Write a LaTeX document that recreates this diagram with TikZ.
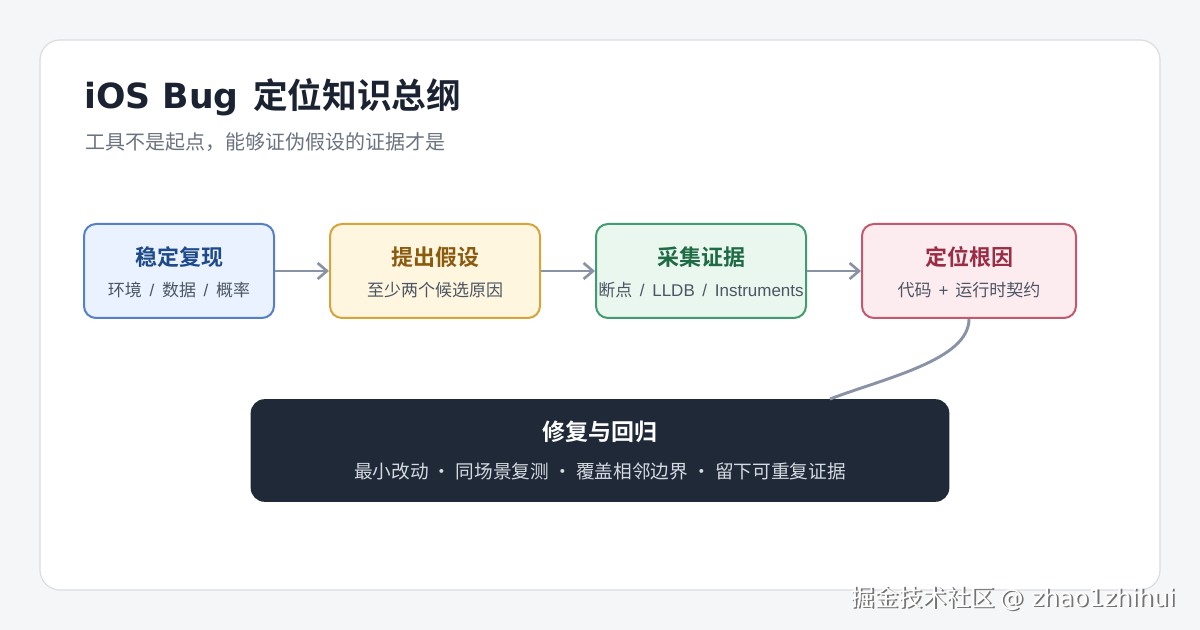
\documentclass[tikz,border=0pt]{standalone}
\usepackage{fontspec}
\setmainfont{Noto Sans CJK SC}
\newfontfamily\cjkbold{Noto Sans CJK SC Bold}
\newfontfamily\lat{Liberation Sans}
\newfontfamily\latw{DejaVu Sans}
\usetikzlibrary{arrows.meta}
\newcommand\sepsl{{\lat\hspace{0.45em}/\hspace{0.45em}}}
\newcommand\seppl{{\lat\hspace{0.4em}+\hspace{0.4em}}}
\definecolor{bgc}{HTML}{F5F6F8}
\definecolor{cardborder}{HTML}{DADDE2}
\definecolor{titlec}{HTML}{1B2333}
\definecolor{subc}{HTML}{6B7280}
\definecolor{linec}{HTML}{8A93A6}
\definecolor{bAf}{HTML}{EAF2FF}\definecolor{bAd}{HTML}{5580C6}\definecolor{bAt}{HTML}{1E4A8A}
\definecolor{bBf}{HTML}{FFF6DF}\definecolor{bBd}{HTML}{D4A53A}\definecolor{bBt}{HTML}{8A5A0F}
\definecolor{bCf}{HTML}{EAF7EF}\definecolor{bCd}{HTML}{439C71}\definecolor{bCt}{HTML}{1E6B45}
\definecolor{bDf}{HTML}{FDECEF}\definecolor{bDd}{HTML}{C3596F}\definecolor{bDt}{HTML}{9B2C45}
\definecolor{boxsub}{HTML}{4B5563}
\definecolor{darkf}{HTML}{1F2937}
\definecolor{darksub}{HTML}{D5DAE1}
\begin{document}
\begin{tikzpicture}[x=0.75pt,y=-0.75pt,
  stagebox/.style={draw, line width=1.5pt, rounded corners=9pt, minimum height=70.5pt, inner sep=0pt},
  stagetitle/.style={font=\cjkbold\fontsize{16.5}{19}\selectfont, inner sep=0pt},
  stagesub/.style={font=\fontsize{12.75}{15}\selectfont, text=boxsub, inner sep=0pt},
  flow/.style={draw=linec, line width=2.2pt, -{Straight Barb[length=7pt,width=12pt,line width=2pt]}},
  link/.style={draw=linec, line width=2.2pt}]
\useasboundingbox (0,0) rectangle (1200,630);
\fill[bgc] (0,0) rectangle (1200,630);
\node[draw=cardborder, fill=white, line width=0.9pt, rounded corners=15pt, minimum width=840pt, minimum height=412.5pt, inner sep=0pt] (card) at (600,315) {};
\node[anchor=base west, inner sep=0pt, text=titlec, font=\cjkbold\fontsize{26}{30}\selectfont] (title) at (84,109) {{\latw\bfseries iOS Bug\hspace{0.42em}}定位知识总纲};
\node[anchor=base west, inner sep=0pt, text=subc, font=\fontsize{15}{18}\selectfont] (subtitle) at (85,150) {工具不是起点，能够证伪假设的证据才是};
% stages
\node[stagebox, fill=bAf, draw=bAd, minimum width=142.5pt] (s1) at (179,271) {};
\node[stagebox, fill=bBf, draw=bBd, minimum width=157.5pt] (s2) at (435,271) {};
\node[stagebox, fill=bCf, draw=bCd, minimum width=157.5pt] (s3) at (701,271) {};
\node[stagebox, fill=bDf, draw=bDd, minimum width=160.5pt] (s4) at (969,271) {};
\node[stagetitle, text=bAt] (t1) at (179,257) {稳定复现};
\node[stagesub] (u1) at (179,290) {环境\sepsl 数据\sepsl 概率};
\node[stagetitle, text=bBt] (t2) at (435,257) {提出假设};
\node[stagesub] (u2) at (435,290) {至少两个候选原因};
\node[stagetitle, text=bCt] (t3) at (701,257) {采集证据};
\node[stagesub] (u3) at (701,290) {断点\sepsl{\lat LLDB}\sepsl{\lat Instruments}};
\node[stagetitle, text=bDt] (t4) at (969,257) {定位根因};
\node[stagesub] (u4) at (969,290) {代码\seppl 运行时契约};
\draw[flow] (s1.east) -- (s2.west);
\draw[flow] (s2.east) -- (s3.west);
\draw[flow] (s3.east) -- (s4.west);
% final box
\node[fill=darkf, rounded corners=10.5pt, minimum width=524pt, minimum height=77pt, inner sep=0pt] (fix) at (600,450.5) {};
\node[inner sep=0pt, text=white, font=\cjkbold\fontsize{17.25}{20}\selectfont] (ft) at (600,432) {修复与回归};
\node[inner sep=0pt, text=darksub, font=\fontsize{14}{16}\selectfont] (fs) at (600,471) {最小改动 · 同场景复测 · 覆盖相邻边界 · 留下可重复证据};
\coordinate (cend) at (830,399);
\draw[link] (s4.south) .. controls (969,360) and (885,378) .. (cend);
% watermark
\node[anchor=west, inner sep=0pt, text=black!55, font=\fontsize{18}{21}\selectfont] (wms) at (851.8,599.2) {掘金技术社区 {\latw @ zhao1zhihui}};
\node[anchor=west, inner sep=0pt, text=white, font=\fontsize{18}{21}\selectfont] (wm) at (850,598) {掘金技术社区 {\latw @ zhao1zhihui}};
\end{tikzpicture}
\end{document}
